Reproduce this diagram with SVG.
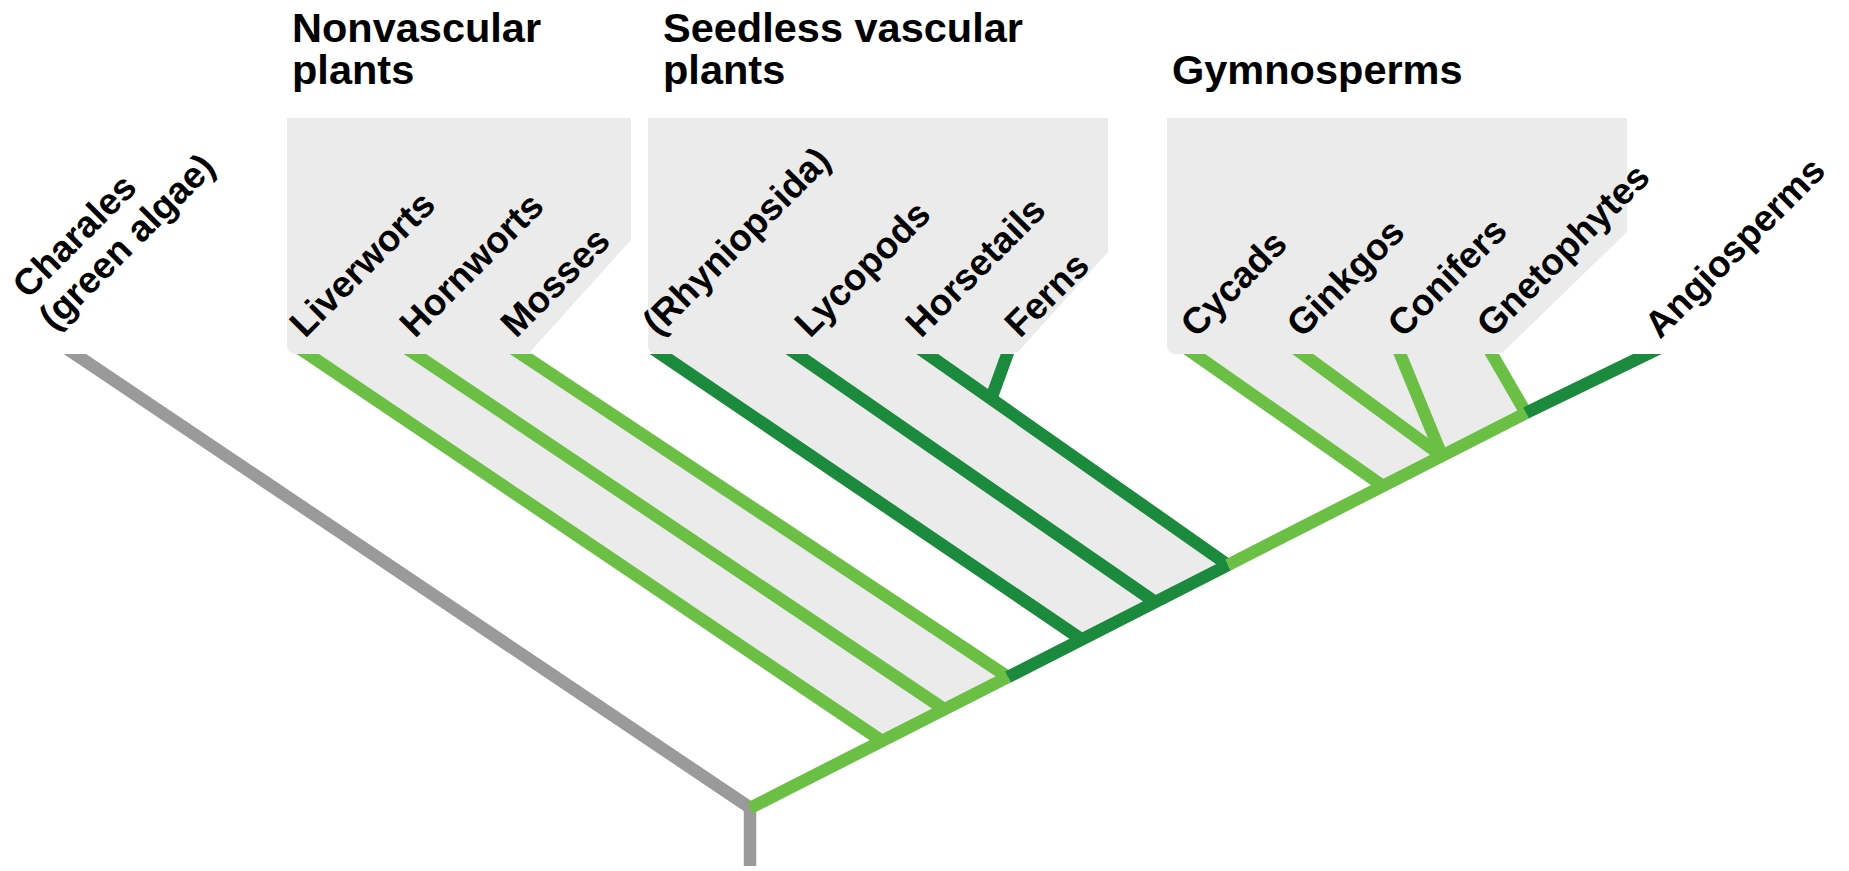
<svg xmlns="http://www.w3.org/2000/svg" width="1849" height="871" viewBox="0 0 1849 871">
<style>
.head{font-family:"Liberation Sans",Arial,sans-serif;font-weight:bold;font-size:41.5px;fill:#000}
.lab{font-family:"Liberation Sans",Arial,sans-serif;font-weight:bold;font-size:37px;fill:#000}
.box{fill:#ebebeb}
.br{fill:none;stroke-width:12.5;stroke-linecap:butt;stroke-linejoin:round}
.lg{stroke:#6cbf45}
.dg{stroke:#1c8a3d}
.gy{stroke:#9a9a9a}
</style>
<defs>
<clipPath id="tops"><rect x="0" y="354" width="1849" height="517"/></clipPath>
</defs>
<rect width="1849" height="871" fill="#fff"/>

<g id="clade-nonvascular">
<path class="box" d="M287,118 H631 V240 L530,352 L1008,677 L882,741 L308,354 H296 Q287,354 287,345 Z"/>
<text class="head" x="292" y="42"><tspan x="292" y="42">Nonvascular</tspan><tspan x="292" y="84">plants</tspan></text>
</g>
<g id="clade-seedless">
<path class="box" d="M648,118 H1108 V252 L1018,352 L1007,354 L991,399 L1228,565 L1081,639 L661,354 H657 Q648,354 648,345 Z"/>
<text class="head" x="663" y="42"><tspan x="663" y="42">Seedless vascular</tspan><tspan x="663" y="84">plants</tspan></text>
</g>
<g id="clade-gymnosperms">
<path class="box" d="M1167,118 H1627 V232 L1503,352 L1492,354 L1526,413 L1383,486 L1194,354 H1176 Q1167,354 1167,345 Z"/>
<text class="head" x="1172" y="84">Gymnosperms</text>
</g>

<g id="connectors" clip-path="url(#tops)">
<line class="br gy" x1="60" y1="344" x2="752" y2="809"/>
<line class="br gy" x1="750" y1="806" x2="750" y2="866"/>
<line class="br lg" x1="293" y1="344" x2="882" y2="741"/>
<line class="br lg" x1="400" y1="344" x2="944" y2="709"/>
<line class="br lg" x1="506" y1="344" x2="1008" y2="677"/>
<line class="br dg" x1="646" y1="344" x2="1081" y2="639"/>
<line class="br dg" x1="782" y1="344" x2="1155" y2="602"/>
<line class="br dg" x1="913" y1="344" x2="1228" y2="565"/>
<line class="br dg" x1="1011" y1="344" x2="991" y2="399"/>
<line class="br lg" x1="1180" y1="344" x2="1383" y2="486"/>
<line class="br lg" x1="1289" y1="344" x2="1442" y2="456"/>
<line class="br lg" x1="1396" y1="344" x2="1442" y2="456"/>
<line class="br lg" x1="1486" y1="344" x2="1526" y2="413"/>
<line class="br lg" x1="750" y1="808" x2="1008" y2="677"/>
<line class="br dg" x1="1008" y1="677" x2="1228" y2="565"/>
<line class="br lg" x1="1228" y1="565" x2="1526" y2="413"/>
<line class="br dg" x1="1526" y1="413" x2="1668" y2="344"/>
</g>

<g id="charales"><text class="lab" transform="translate(28,300) rotate(-45)"><tspan x="0" y="0">Charales</tspan><tspan x="-4" y="41">(green algae)</tspan></text></g>
<g id="liverworts"><text class="lab" transform="translate(305,339) rotate(-45)">Liverworts</text></g>
<g id="hornworts"><text class="lab" transform="translate(415,339) rotate(-45)">Hornworts</text></g>
<g id="mosses"><text class="lab" transform="translate(516,339) rotate(-45)">Mosses</text></g>
<g id="rhyniopsida"><text class="lab" transform="translate(658,337) rotate(-45)">(Rhyniopsida)</text></g>
<g id="lycopods"><text class="lab" transform="translate(810,339) rotate(-45)">Lycopods</text></g>
<g id="horsetails"><text class="lab" transform="translate(921,339) rotate(-45)">Horsetails</text></g>
<g id="ferns"><text class="lab" transform="translate(1020,339) rotate(-45)">Ferns</text></g>
<g id="cycads"><text class="lab" transform="translate(1196,339) rotate(-45)">Cycads</text></g>
<g id="ginkgos"><text class="lab" transform="translate(1302,339) rotate(-45)">Ginkgos</text></g>
<g id="conifers"><text class="lab" transform="translate(1403,339) rotate(-45)">Conifers</text></g>
<g id="gnetophytes"><text class="lab" transform="translate(1492,339) rotate(-45)">Gnetophytes</text></g>
<g id="angiosperms"><text class="lab" transform="translate(1660,340) rotate(-45)">Angiosperms</text></g>
</svg>
